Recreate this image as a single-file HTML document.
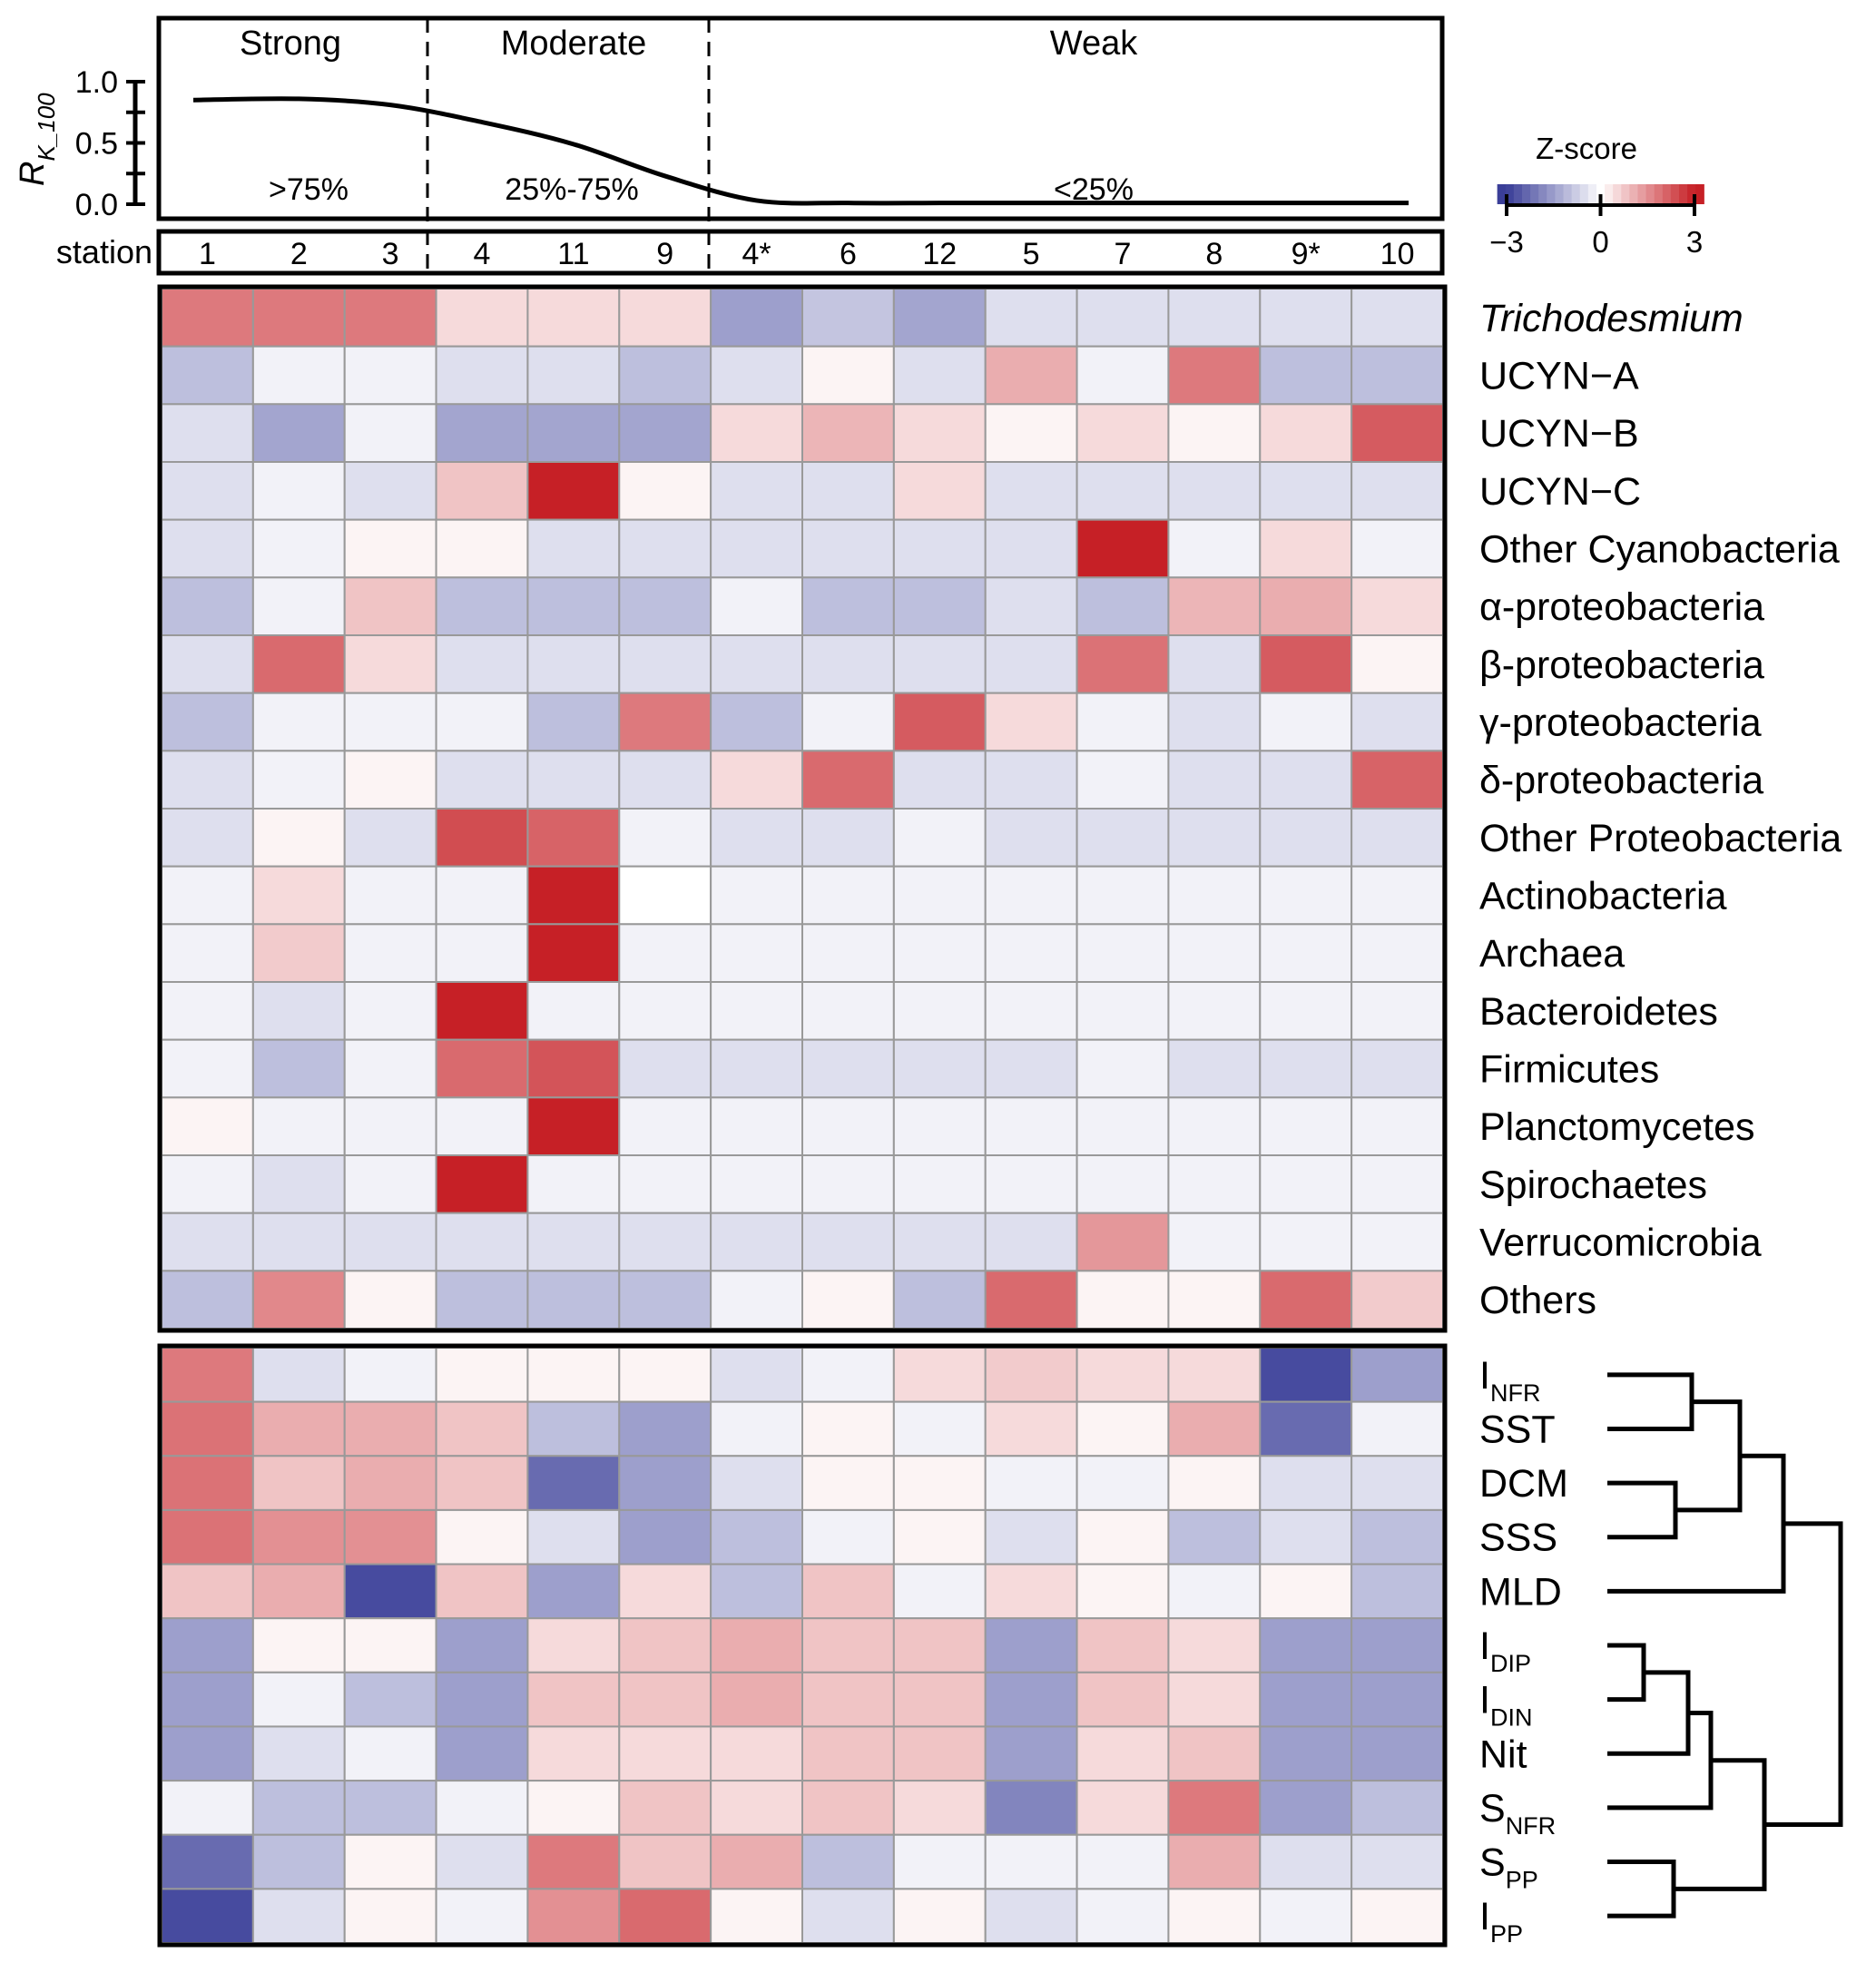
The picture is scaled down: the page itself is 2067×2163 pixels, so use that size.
<!DOCTYPE html>
<html><head><meta charset="utf-8"><style>
body{margin:0;background:#fff}
svg{display:block}
text{font-family:"Liberation Sans",sans-serif;fill:#000}
.n{font-family:"Liberation Sans Narrow","Liberation Sans",sans-serif}
</style></head><body>
<svg id="s" width="2067" height="2163" viewBox="0 0 2067 2163" xmlns="http://www.w3.org/2000/svg"></svg>
<script>
const stations=["1","2","3","4","11","9","4*","6","12","5","7","8","9*","10"];
const rk=[0.85,0.86,0.81,0.67,0.49,0.23,0.03,0.01,0.01,0.01,0.01,0.01,0.01,0.01];
const taxa=["Trichodesmium","UCYN\u2212A","UCYN\u2212B","UCYN\u2212C","Other Cyanobacteria","\u03b1-proteobacteria","\u03b2-proteobacteria","\u03b3-proteobacteria","\u03b4-proteobacteria","Other Proteobacteria","Actinobacteria","Archaea","Bacteroidetes","Firmicutes","Planctomycetes","Spirochaetes","Verrucomicrobia","Others"];
const z1=[
[1.8,1.8,1.8,.5,.5,.5,-1.5,-0.9,-1.4,-0.5,-0.5,-0.5,-0.5,-0.5],
[-1,-0.2,-0.2,-0.5,-0.5,-1,-0.5,0.15,-0.5,1.1,-0.2,1.8,-1,-1],
[-0.5,-1.4,-0.2,-1.4,-1.4,-1.4,0.5,1,0.5,0.15,0.5,0.15,0.5,2.2],
[-0.5,-0.2,-0.5,0.8,3,0.15,-0.5,-0.5,0.5,-0.5,-0.5,-0.5,-0.5,-0.5],
[-0.5,-0.2,0.15,0.15,-0.5,-0.5,-0.5,-0.5,-0.5,-0.5,3,-0.2,0.5,-0.2],
[-1,-0.2,0.8,-1,-1,-1,-0.2,-1,-1,-0.5,-1,1,1.1,0.5],
[-0.5,2,0.5,-0.5,-0.5,-0.5,-0.5,-0.5,-0.5,-0.5,1.9,-0.5,2.2,0.15],
[-1,-0.2,-0.2,-0.2,-1,1.8,-1,-0.2,2.2,0.5,-0.2,-0.5,-0.2,-0.5],
[-0.5,-0.2,0.15,-0.5,-0.5,-0.5,0.5,2,-0.5,-0.5,-0.2,-0.5,-0.5,2.1],
[-0.5,0.15,-0.5,2.4,2.1,-0.2,-0.5,-0.5,-0.2,-0.5,-0.5,-0.5,-0.5,-0.5],
[-0.2,0.5,-0.2,-0.2,3,0,-0.2,-0.2,-0.2,-0.2,-0.2,-0.2,-0.2,-0.2],
[-0.2,0.7,-0.2,-0.2,3,-0.2,-0.2,-0.2,-0.2,-0.2,-0.2,-0.2,-0.2,-0.2],
[-0.2,-0.5,-0.2,3,-0.2,-0.2,-0.2,-0.2,-0.2,-0.2,-0.2,-0.2,-0.2,-0.2],
[-0.2,-1,-0.2,2.0,2.3,-0.5,-0.5,-0.5,-0.5,-0.5,-0.2,-0.5,-0.5,-0.5],
[0.15,-0.2,-0.2,-0.2,3,-0.2,-0.2,-0.2,-0.2,-0.2,-0.2,-0.2,-0.2,-0.2],
[-0.2,-0.5,-0.2,3,-0.2,-0.2,-0.2,-0.2,-0.2,-0.2,-0.2,-0.2,-0.2,-0.2],
[-0.5,-0.5,-0.5,-0.5,-0.5,-0.5,-0.5,-0.5,-0.5,-0.5,1.4,-0.2,-0.2,-0.2],
[-1,1.6,0.15,-1,-1,-1,-0.2,0.15,-1,2,0.15,0.15,2,0.7]];
const envMain=["I","SST","DCM","SSS","MLD","I","I","Nit","S","S","I"];
const envSub=["NFR","","","","","DIP","DIN","","NFR","PP","PP"];
const z2=[
[1.8,-0.5,-0.2,0.15,0.15,0.15,-0.5,-0.2,0.5,0.7,0.5,0.5,-2.8,-1.5],
[1.9,1.1,1.1,0.8,-1,-1.5,-0.2,0.15,-0.2,0.5,0.15,1.1,-2.3,-0.2],
[1.9,0.8,1.1,0.8,-2.3,-1.5,-0.5,0.15,0.15,-0.2,-0.2,0.15,-0.5,-0.5],
[1.9,1.5,1.5,0.15,-0.5,-1.5,-1,-0.2,0.15,-0.5,0.15,-1,-0.5,-1],
[0.8,1.1,-2.8,0.8,-1.5,0.5,-1,0.8,-0.2,0.5,0.15,-0.2,0.15,-1],
[-1.5,0.15,0.15,-1.5,0.5,0.8,1.1,0.8,0.8,-1.5,0.8,0.5,-1.5,-1.5],
[-1.5,-0.2,-1,-1.5,0.8,0.8,1.1,0.8,0.8,-1.5,0.8,0.5,-1.5,-1.5],
[-1.5,-0.5,-0.2,-1.5,0.5,0.5,0.5,0.8,0.8,-1.5,0.5,0.8,-1.5,-1.5],
[-0.2,-1,-1,-0.2,0.15,0.8,0.5,0.8,0.5,-1.9,0.5,1.8,-1.5,-1],
[-2.3,-1,0.15,-0.5,1.8,0.8,1.1,-1,-0.2,-0.2,-0.2,1.1,-0.5,-0.5],
[-2.8,-0.5,0.15,-0.2,1.5,2,0.15,-0.5,0.15,-0.5,-0.2,0.15,-0.2,0.15]];
const cbTicks=[-3,0,3];

const S=document.getElementById('s');const NS="http://www.w3.org/2000/svg";
function mk(t,a,p){const e=document.createElementNS(NS,t);for(const k in a)e.setAttribute(k,a[k]);(p||S).appendChild(e);return e;}
function col(z){z=Math.max(-3,Math.min(3,z));let t=Math.abs(z)/3;let c=z<0?[58,62,152]:[198,32,38];
 const r=c.map(v=>Math.round(255+(v-255)*t));return `rgb(${r[0]},${r[1]},${r[2]})`;}
const X0=178,X1=1590,CW=(X1-X0)/14;
const cx=i=>X0+CW*(i+.5);

const tp=mk('g',{});
mk('rect',{x:175,y:20,width:1414,height:221,fill:'none',stroke:'#000','stroke-width':5},tp);
[471,781].forEach(x=>{const l=mk('line',{x1:x,x2:x,y1:20,y2:302,stroke:'#000','stroke-width':3,'stroke-dasharray':'16,10'},tp);});
[["Strong",320],["Moderate",632],["Weak",1205]].forEach(([t,x])=>{const e=mk('text',{x:x,y:60,'font-size':38,'text-anchor':'middle',class:'n'},tp);e.textContent=t;});
[[">75%",340],["25%-75%",630],["<25%",1205]].forEach(([t,x])=>{const e=mk('text',{x:x,y:220,'font-size':34,'text-anchor':'middle',class:'n'},tp);e.textContent=t;});
const yv=v=>225-v*135;
mk('line',{x1:149,x2:149,y1:yv(1),y2:yv(0),stroke:'#000','stroke-width':5},tp);
[0,.25,.5,.75,1].forEach(v=>mk('line',{x1:139,x2:160,y1:yv(v),y2:yv(v),stroke:'#000','stroke-width':4},tp));
[[1,"1.0"],[.5,"0.5"],[0,"0.0"]].forEach(([v,t])=>{const e=mk('text',{x:130,y:yv(v)+12,'font-size':34,'text-anchor':'end',class:'n'},tp);e.textContent=t;});
const yl=mk('text',{x:0,y:0,'font-size':38,transform:'translate(48,205) rotate(-90)','font-style':'italic'},tp);
yl.innerHTML='R<tspan font-size="26" dy="12">K_100</tspan>';
let pts=rk.map((v,i)=>[cx(i),yv(v)]);pts[0][0]=213;pts[13][0]=1552;
let d='M'+pts[0][0]+','+pts[0][1];
for(let i=0;i<pts.length-1;i++){const p0=pts[Math.max(0,i-1)],p1=pts[i],p2=pts[i+1],p3=pts[Math.min(pts.length-1,i+2)];
 d+=` C${p1[0]+(p2[0]-p0[0])/6},${p1[1]+(p2[1]-p0[1])/6} ${p2[0]-(p3[0]-p1[0])/6},${p2[1]-(p3[1]-p1[1])/6} ${p2[0]},${p2[1]}`;}
const cv=mk('path',{d:d,fill:'none',stroke:'#000','stroke-width':5},tp);

mk('rect',{x:175,y:255,width:1414,height:46,fill:'none',stroke:'#000','stroke-width':5});
const st=mk('text',{x:168,y:290,'font-size':36,'text-anchor':'end',class:'n'});st.textContent='station';
stations.forEach((s,i)=>{const e=mk('text',{x:cx(i),y:291,'font-size':34,'text-anchor':'middle',class:'n'});e.textContent=s;});

function heat(z,y0,y1,name){const g=mk('g',{});
 const rh=(y1-y0)/z.length;
 z.forEach((row,r)=>row.forEach((v,c)=>{const e=mk('rect',{x:X0+c*CW,y:y0+r*rh,width:CW,height:rh,fill:col(v),stroke:'#999','stroke-width':2},g);}));
 mk('rect',{x:X0-2,y:y0-2,width:X1-X0+4,height:y1-y0+4,fill:'none',stroke:'#000','stroke-width':5},g);return rh;}
const rh1=heat(z1,318,1464,'taxa-heatmap');
taxa.forEach((t,i)=>{const e=mk('text',{x:1630,y:318+rh1*(i+.5)+15,'font-size':43});if(i==0)e.setAttribute('font-style','italic');e.textContent=t;});
const Y2=1485,rh2=heat(z2,Y2,2141,'env-heatmap');
const ry=i=>Y2+rh2*(i+.5);
envMain.forEach((t,i)=>{const e=mk('text',{x:1630,y:ry(i)+15,'font-size':43});e.textContent=t;
 if(envSub[i]){const ts=mk('tspan',{'font-size':27,dy:14},e);ts.textContent=envSub[i];}
 });

const dg=mk('g',{fill:'none',stroke:'#000','stroke-width':5});
function join(a,b,x){mk('path',{d:`M${a[0]},${a[1]}H${x}V${b[1]}H${b[0]}`},dg);return [x,(a[1]+b[1])/2];}
const L=i=>[1771,ry(i)];
const n1=join(L(0),L(1),1864),n2=join(L(2),L(3),1846),n3=join(n1,n2,1917),n4=join(n3,L(4),1965);
const m1=join(L(5),L(6),1811),m2=join(m1,L(7),1860),m3=join(m2,L(8),1885),m4=join(L(9),L(10),1844),m5=join(m3,m4,1944);
join(n4,m5,2028);

const cb=mk('g',{});
const zt=mk('text',{x:1748,y:175,'font-size':33,'text-anchor':'middle'},cb);zt.textContent='Z-score';
const cbx=v=>1763.5+v*(1867-1660)/6;
for(let k=0;k<25;k++){const v0=-3.3+k*6.6/25;mk('rect',{x:cbx(v0),y:203,width:6.6/25*207/6+0.5,height:22,fill:col(v0+0.13)},cb);}
mk('line',{x1:cbx(-3),x2:cbx(3),y1:226,y2:226,stroke:'#000','stroke-width':4},cb);
cbTicks.forEach(v=>{mk('line',{x1:cbx(v),x2:cbx(v),y1:214,y2:238,stroke:'#000','stroke-width':4},cb);
 const e=mk('text',{x:cbx(v),y:278,'font-size':33,'text-anchor':'middle'},cb);e.textContent=v<0?'\u2212'+(-v):String(v);});
</script>
</body></html>
